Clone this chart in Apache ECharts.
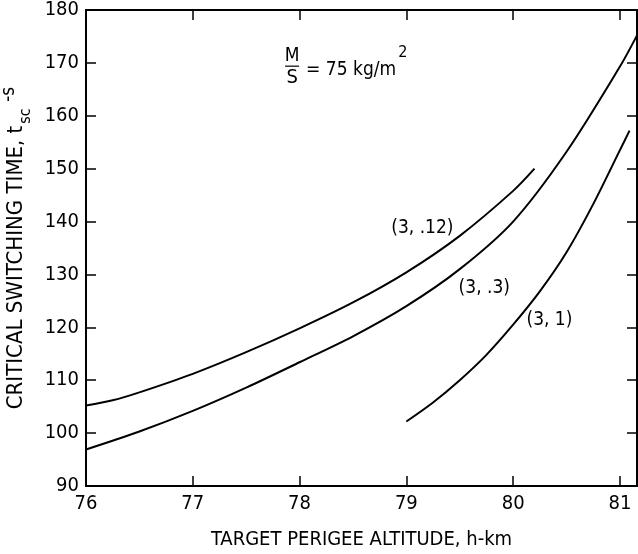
<!DOCTYPE html>
<html>
<head>
<meta charset="utf-8">
<style>
  html, body { margin: 0; padding: 0; background: #fff; }
  #chart { width: 638px; height: 554px; }
</style>
<script src="https://cdn.jsdelivr.net/npm/echarts@6/dist/echarts.min.js"></script>
</head>
<body>
<div id="chart"></div>
<script>
// ---- data ----
var xTicks = [76, 77, 78, 79, 80, 81];
var yTicks = [90, 100, 110, 120, 130, 140, 150, 160, 170, 180];

var curve012X = [76, 76.25, 76.5, 77, 77.5, 78, 78.5, 79, 79.5, 80, 80.2];
var curve012Y = [105.2, 106.2, 107.7, 111.2, 115.3, 119.8, 124.7, 130.4, 137.3, 145.8, 150.0];

var curve03X = [76, 76.5, 77, 77.5, 78, 78.5, 79, 79.5, 80, 80.5, 81, 81.16];
var curve03Y = [96.9, 100.3, 104.2, 108.6, 113.4, 118.3, 124.0, 131.0, 140.0, 153.2, 169.3, 175.2];

var curve1X = [79, 79.25, 79.5, 79.75, 80, 80.25, 80.5, 80.75, 81, 81.09];
var curve1Y = [102.2, 105.8, 110.0, 114.8, 120.5, 126.8, 134.2, 143.3, 153.5, 157.2];

var curveLabels = ['(3, .12)', '(3, .3)', '(3, 1)'];
var curveLabelPos = [[79.15, 138.8], [79.73, 127.4], [80.34, 121.4]];
var noteText = '= 75 kg/m';
var notePos = [77.93, 169.0];

function zip(xs, ys) { return xs.map(function (x, i) { return [x, ys[i]]; }); }

var FONT = '"Liberation Sans Narrow", "DejaVu Sans Condensed", "Liberation Sans", sans-serif';
var XMIN = xTicks[0], XMAX = 81.16, YMIN = yTicks[0], YMAX = yTicks[yTicks.length - 1];

var chart = echarts.init(document.getElementById('chart'));

function tickFmt(v) { return (Math.abs(v - Math.round(v)) < 1e-6) ? String(Math.round(v)) : ''; }

var lineStyle = { color: '#000', width: 2 };
var option = {
  backgroundColor: '#fff',
  animation: false,
  grid: { left: 86, top: 10, right: 1, bottom: 68, containLabel: false, outerBoundsMode: 'none' },
  xAxis: [{
    type: 'value', min: XMIN, max: XMAX, interval: 1, position: 'bottom',
    axisLine: { show: true, lineStyle: { color: '#000', width: 2 } },
    axisTick: { show: true, inside: true, length: 10, lineStyle: { color: '#000', width: 1.5 } },
    axisLabel: { color: '#000', fontFamily: FONT, fontSize: 20, margin: 8, showMaxLabel: false, formatter: tickFmt },
    splitLine: { show: false },
    name: 'TARGET PERIGEE ALTITUDE, h-km', nameLocation: 'middle', nameGap: 44,
    nameTextStyle: { color: '#000', fontFamily: FONT, fontSize: 20 }
  }, {
    type: 'value', min: XMIN, max: XMAX, interval: 1, position: 'top',
    axisLine: { show: true, lineStyle: { color: '#000', width: 2 } },
    axisTick: { show: true, inside: true, length: 10, lineStyle: { color: '#000', width: 1.5 } },
    axisLabel: { show: false }, splitLine: { show: false }
  }],
  yAxis: [{
    type: 'value', min: YMIN, max: YMAX, interval: 10, position: 'left',
    axisLine: { show: true, lineStyle: { color: '#000', width: 2 } },
    axisTick: { show: true, inside: true, length: 10, lineStyle: { color: '#000', width: 1.5 } },
    axisLabel: { color: '#000', fontFamily: FONT, fontSize: 20, margin: 7 },
    splitLine: { show: false },
    name: '{a|CRITICAL SWITCHING TIME, t}{b|sc}{c| -s}', nameLocation: 'middle', nameGap: 42, nameRotate: 90,
    nameTextStyle: {
      color: '#000', fontFamily: FONT, fontSize: 22,
      rich: {
        a: { fontFamily: FONT, fontSize: 22, color: '#000', lineHeight: 34, verticalAlign: 'middle' },
        b: { fontFamily: FONT, fontSize: 16, color: '#000', lineHeight: 34, verticalAlign: 'bottom', padding: [0, 1, 0, 2] },
        c: { fontFamily: FONT, fontSize: 19, color: '#000', lineHeight: 34, verticalAlign: 'top' }
      }
    }
  }, {
    type: 'value', min: YMIN, max: YMAX, interval: 10, position: 'right',
    axisLine: { show: true, lineStyle: { color: '#000', width: 2 } },
    axisTick: { show: true, inside: true, length: 10, lineStyle: { color: '#000', width: 1.5 } },
    axisLabel: { show: false }, splitLine: { show: false }
  }],
  series: [
    { name: '(3,.12)', type: 'line', data: zip(curve012X, curve012Y), smooth: 0.3, showSymbol: false, lineStyle: lineStyle },
    { name: '(3,.3)', type: 'line', data: zip(curve03X, curve03Y), smooth: 0.3, showSymbol: false, lineStyle: lineStyle },
    { name: '(3,1)', type: 'line', data: zip(curve1X, curve1Y), smooth: 0.3, showSymbol: false, lineStyle: lineStyle }
  ]
};
chart.setOption(option);

// annotations anchored to data coordinates
var g = [];
curveLabels.forEach(function (t, i) {
  var p = chart.convertToPixel({ gridIndex: 0 }, curveLabelPos[i]);
  g.push({ type: 'text', x: p[0], y: p[1], style: { text: t, fontFamily: FONT, fontSize: 19, fill: '#000', align: 'center', verticalAlign: 'middle' } });
});
var np = chart.convertToPixel({ gridIndex: 0 }, notePos);
g.push({ type: 'text', x: np[0], y: np[1] - 12, style: { text: 'M', fontFamily: FONT, fontSize: 19, fill: '#000', align: 'center', verticalAlign: 'middle' } });
g.push({ type: 'line', shape: { x1: np[0] - 7, y1: np[1] - 2, x2: np[0] + 7, y2: np[1] - 2 }, style: { stroke: '#000', lineWidth: 1.2 } });
g.push({ type: 'text', x: np[0], y: np[1] + 10, style: { text: 'S', fontFamily: FONT, fontSize: 20, fill: '#000', align: 'center', verticalAlign: 'middle' } });
g.push({ type: 'text', x: np[0] + 14, y: np[1] - 6, style: {
  text: '{n|' + noteText + '}{s|2}', fontFamily: FONT, fontSize: 19, fill: '#000', align: 'left', verticalAlign: 'middle',
  rich: {
    n: { fontFamily: FONT, fontSize: 19, fill: '#000', lineHeight: 34, verticalAlign: 'bottom' },
    s: { fontFamily: FONT, fontSize: 16, fill: '#000', lineHeight: 34, verticalAlign: 'top', padding: [0, 0, 0, 2] }
  }
} });
chart.setOption({ graphic: g });
</script>
</body>
</html>
